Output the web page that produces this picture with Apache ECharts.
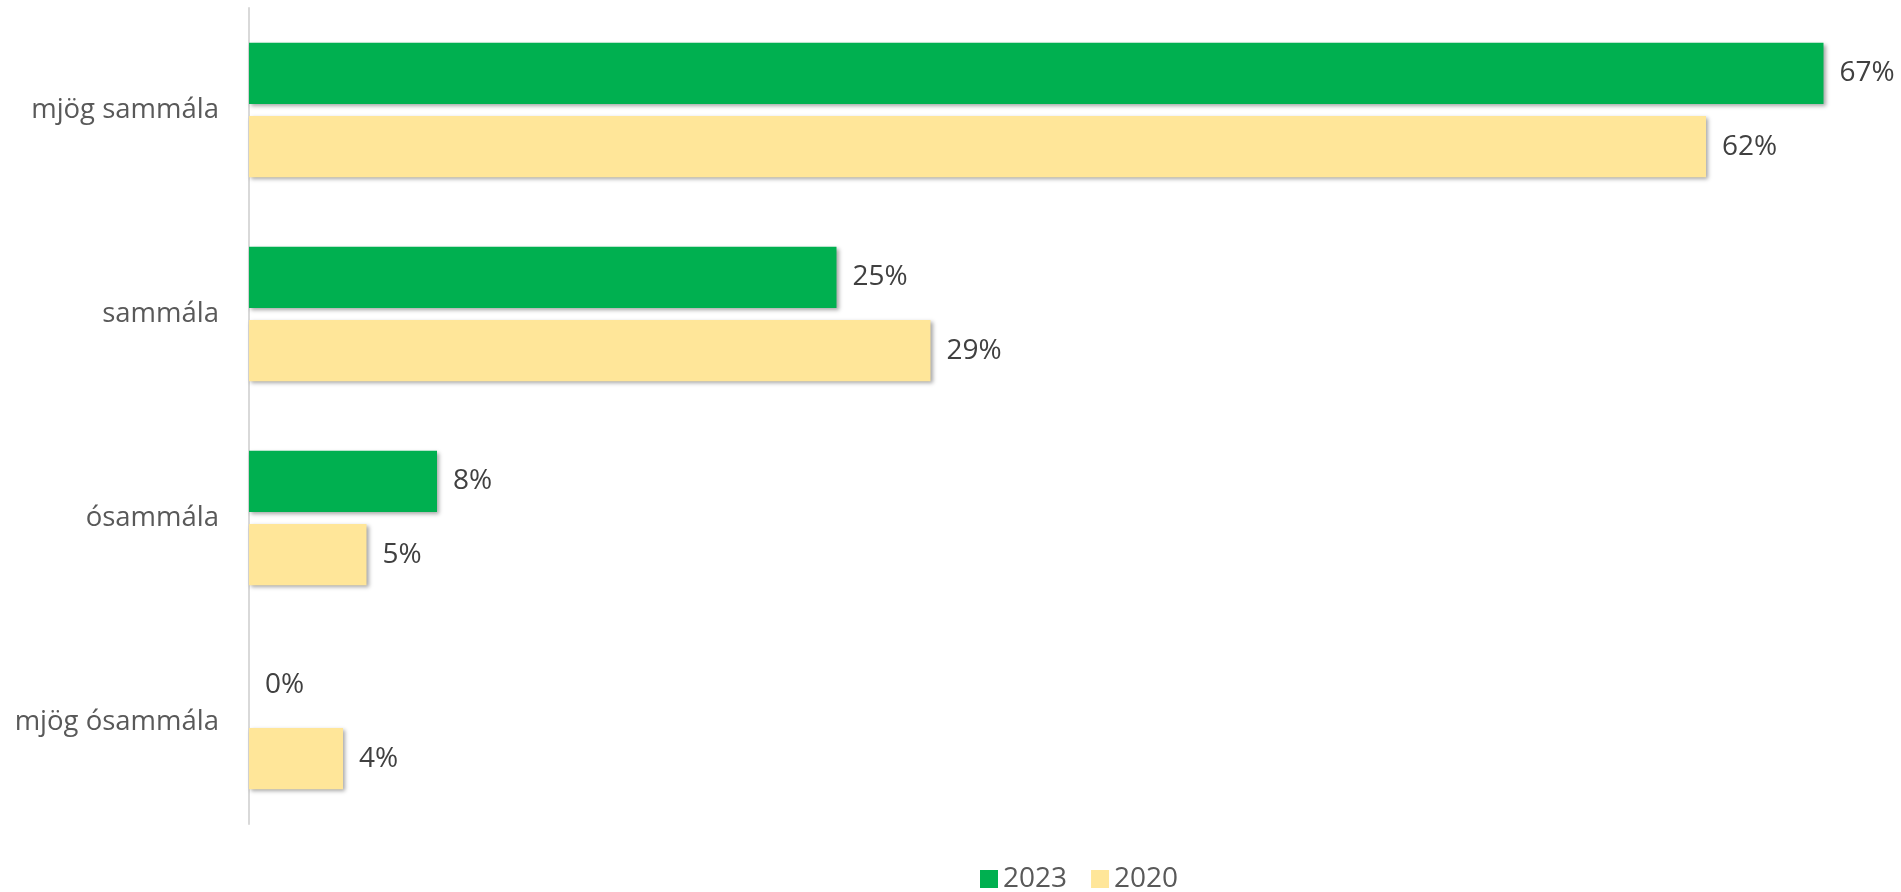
<!DOCTYPE html>
<html>
<head>
<meta charset="utf-8">
<script src="https://cdn.jsdelivr.net/npm/echarts@6/dist/echarts.min.js"></script>
<style>
  html, body { margin: 0; padding: 0; background: #fff; }
  #main { width: 1901px; height: 892px; }
</style>
</head>
<body>
<div id="main"></div>
<script>
const categories = ['mjög sammála', 'sammála', 'ósammála', 'mjög ósammála'];
const values2023 = [67, 25, 8, 0];
const values2020 = [62, 29, 5, 4];
const seriesNames = ['2023', '2020'];

const font = '"Open Sans", "Noto Sans", sans-serif';
const barShadow = {
  shadowBlur: 4,
  shadowOffsetX: 2,
  shadowOffsetY: 2,
  shadowColor: 'rgba(0,0,0,0.35)'
};

let chart = echarts.init(document.getElementById('main'));
let option = {
  animation: false,
  grid: { left: 249, right: 7, top: 8, bottom: 68 },
  legend: {
    left: 975,
    top: 860,
    padding: 5,
    itemWidth: 18,
    itemHeight: 18,
    itemGap: 24,
    icon: 'rect',
    textStyle: { fontFamily: font, fontSize: 28, color: '#595959' },
    data: seriesNames
  },
  xAxis: {
    type: 'value',
    min: 0,
    max: 70,
    show: false
  },
  yAxis: {
    type: 'category',
    data: categories,
    inverse: true,
    axisLine: { lineStyle: { color: '#D9D9D9', width: 2 } },
    axisTick: { show: false },
    axisLabel: { fontFamily: font, fontSize: 27.5, color: '#595959', margin: 30 }
  },
  series: [
    {
      name: seriesNames[0],
      type: 'bar',
      data: values2023,
      barGap: '20%',
      barCategoryGap: '34%',
      itemStyle: Object.assign({ color: '#00B050' }, barShadow),
      label: { show: true, position: 'right', distance: 16, formatter: '{c}%', fontFamily: font, fontSize: 28, color: '#404040' }
    },
    {
      name: seriesNames[1],
      type: 'bar',
      data: values2020,
      barGap: '20%',
      barCategoryGap: '34%',
      itemStyle: Object.assign({ color: '#FFE699' }, barShadow),
      label: { show: true, position: 'right', distance: 16, formatter: '{c}%', fontFamily: font, fontSize: 28, color: '#404040' }
    }
  ]
};
chart.setOption(option);
</script>
</body>
</html>
